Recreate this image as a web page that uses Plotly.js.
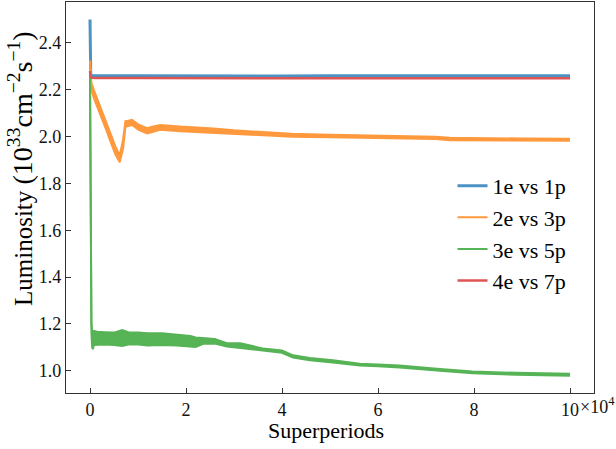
<!DOCTYPE html>
<html>
<head>
<meta charset="utf-8">
<script src="https://cdn.plot.ly/plotly-3.0.1.min.js"></script>
<style>html,body{margin:0;padding:0;background:#fff;}#chart{width:616px;height:449px;}</style>
</head>
<body>
<div id="chart"></div>
<script>
// ---- data ----
const seriesNames = ["1e vs 1p", "2e vs 3p", "3e vs 5p", "4e vs 7p"];

const blueX = [0, 60, 150, 400, 1000, 10000, 20000, 30000, 40000, 50000, 60000, 70000, 80000, 90000, 100000];
const blueY = [2.50, 2.30, 2.266, 2.261, 2.260, 2.260, 2.259, 2.260, 2.259, 2.260, 2.260, 2.259, 2.260, 2.260, 2.260];

const orangeX  = [0, 300, 790, 1500, 2180, 3220, 4260, 5300, 6200, 6900, 7380, 8000, 8770, 10150, 11900, 13000, 14600, 18800, 22000, 25700, 30000, 35000, 42000, 50000, 58000, 64000, 72000, 75000, 80000, 90000, 100000];
const orangeLo = [2.29, 2.20, 2.165, 2.125, 2.095, 2.037, 1.980, 1.923, 1.890, 1.950, 2.042, 2.046, 2.050, 2.029, 2.014, 2.020, 2.029, 2.023, 2.020, 2.015, 2.010, 2.005, 2.000, 1.997, 1.994, 1.993, 1.990, 1.984, 1.984, 1.983, 1.982];
const orangeHi = [2.325, 2.23, 2.200, 2.160, 2.128, 2.071, 2.014, 1.957, 1.920, 1.988, 2.066, 2.068, 2.072, 2.051, 2.036, 2.042, 2.050, 2.043, 2.040, 2.035, 2.027, 2.021, 2.012, 2.008, 2.004, 2.002, 2.000, 1.995, 1.993, 1.992, 1.991];

const greenX  = [0, 150, 300, 450, 600, 800, 1500, 3000, 5000, 6700, 8000, 10000, 12000, 15000, 18000, 20900, 22000, 23600, 26000, 28500, 31300, 36000, 40000, 42300, 45800, 50600, 56200, 60000, 64500, 72900, 79700, 88800, 95000, 100000];
const greenLo = [2.25, 1.40, 1.16, 1.10, 1.092, 1.11, 1.111, 1.112, 1.110, 1.106, 1.112, 1.112, 1.108, 1.110, 1.108, 1.103, 1.102, 1.115, 1.116, 1.104, 1.097, 1.085, 1.077, 1.056, 1.045, 1.035, 1.022, 1.019, 1.014, 1.000, 0.989, 0.983, 0.981, 0.979];
const greenHi = [2.27, 1.50, 1.20, 1.17, 1.165, 1.17, 1.167, 1.165, 1.163, 1.174, 1.165, 1.163, 1.160, 1.160, 1.155, 1.149, 1.142, 1.139, 1.136, 1.118, 1.118, 1.095, 1.087, 1.066, 1.055, 1.045, 1.030, 1.027, 1.022, 1.008, 0.997, 0.991, 0.988, 0.987];

const redX = [0, 100, 300, 1000, 10000, 20000, 30000, 40000, 50000, 60000, 70000, 80000, 90000, 100000];
const redY = [2.28, 2.26, 2.252, 2.250, 2.250, 2.250, 2.250, 2.250, 2.250, 2.250, 2.250, 2.250, 2.250, 2.249];

const xTickVals = [0, 20000, 40000, 60000, 80000, 100000];
const xTickText = ["0", "2", "4", "6", "8", "10"];
const yTickVals = [1.0, 1.2, 1.4, 1.6, 1.8, 2.0, 2.2, 2.4];
const yTickText = ["1.0", "1.2", "1.4", "1.6", "1.8", "2.0", "2.2", "2.4"];

const colors = ["#4c92c3", "#ff993e", "#56b356", "#de5353"];
const FONT = "Liberation Serif";

const traces = [
  {x: blueX, y: blueY, mode: "lines", name: seriesNames[0], line: {color: colors[0], width: 3}},
  {x: orangeX, y: orangeLo, mode: "lines", name: seriesNames[1], line: {color: colors[1], width: 2}, legendgroup: "o"},
  {x: orangeX, y: orangeHi, mode: "lines", fill: "tonexty", fillcolor: colors[1], showlegend: false, line: {color: colors[1], width: 2}, legendgroup: "o"},
  {x: greenX, y: greenLo, mode: "lines", name: seriesNames[2], line: {color: colors[2], width: 2}, legendgroup: "g"},
  {x: greenX, y: greenHi, mode: "lines", fill: "tonexty", fillcolor: colors[2], showlegend: false, line: {color: colors[2], width: 2}, legendgroup: "g"},
  {x: redX, y: redY, mode: "lines", name: seriesNames[3], line: {color: colors[3], width: 2.5}}
];

const layout = {
  width: 616, height: 449,
  margin: {l: 66, r: 22, t: 2, b: 56},
  paper_bgcolor: "#fff", plot_bgcolor: "#fff",
  font: {family: FONT, color: "#000"},
  showlegend: true,
  legend: {x: 0.732, xanchor: "left", y: 0.408, yanchor: "middle", bgcolor: "rgba(0,0,0,0)",
           font: {family: FONT, size: 22, color: "#000"}, tracegroupgap: 0},
  xaxis: {range: [-5000, 105000], tickvals: xTickVals, ticktext: xTickText,
          ticks: "inside", ticklen: 5, tickcolor: "#333", tickwidth: 1,
          showline: true, mirror: true, linecolor: "#333", linewidth: 1.2,
          showgrid: false, zeroline: false,
          tickfont: {family: FONT, size: 18, color: "#111"}},
  yaxis: {range: [0.905, 2.575], tickvals: yTickVals, ticktext: yTickText,
          ticks: "inside", ticklen: 5, tickcolor: "#333", tickwidth: 1,
          showline: true, mirror: true, linecolor: "#333", linewidth: 1.2,
          showgrid: false, zeroline: false,
          tickfont: {family: FONT, size: 18, color: "#111"}},
  annotations: [
    {xref: "paper", yref: "paper", x: (578 - 66) / 528, y: -12 / 391, xanchor: "left", yanchor: "middle",
     text: "×10<sup>4</sup>", showarrow: false, font: {family: FONT, size: 18, color: "#111"}},
    {xref: "paper", yref: "paper", x: 0.492, y: (393 - 416) / 391, xanchor: "center", yanchor: "top",
     text: "Superperiods", showarrow: false, font: {family: FONT, size: 22, color: "#000"}},
    {xref: "paper", yref: "paper", x: (20 - 66) / 528, y: (393 - 169) / 391, xanchor: "center", yanchor: "middle",
     textangle: -90,
     text: "Luminosity <span style=\"font-size:28px\">(10<sup>33</sup>cm<sup>−2</sup>s<sup>−1</sup>)</span>",
     showarrow: false, font: {family: FONT, size: 25, color: "#000"}}
  ]
};

Plotly.newPlot("chart", traces, layout, {displayModeBar: false, staticPlot: true});
</script>
</body>
</html>
